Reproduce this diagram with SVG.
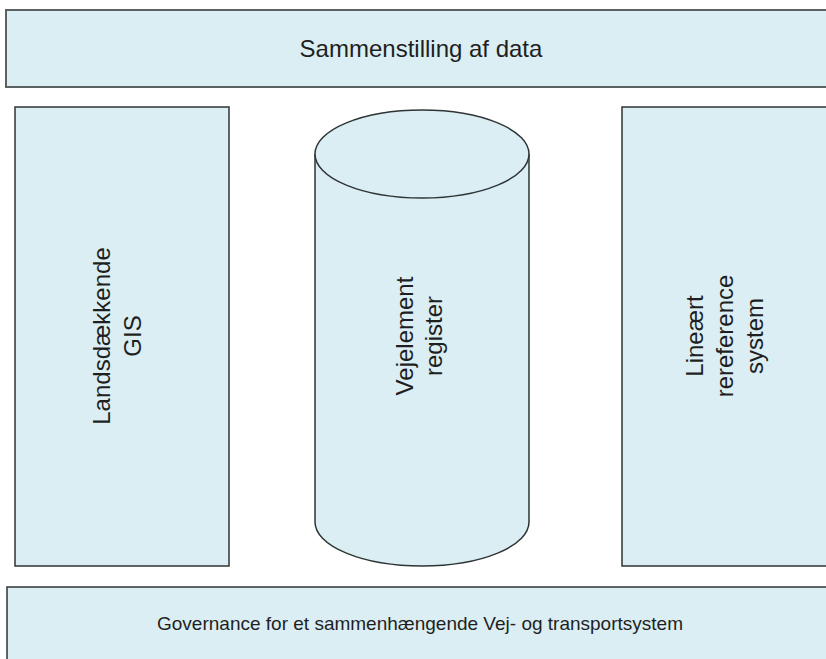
<svg xmlns="http://www.w3.org/2000/svg" width="826" height="659" viewBox="0 0 826 659">
  <style>
    .box { fill: #DAEEF3; stroke: #2f3435; stroke-width: 1.5; }
    .bar { fill: #DAEEF3; stroke: #5a6263; stroke-width: 2; }
    .lbl { font-family: "Liberation Sans", Arial, sans-serif; fill: #1f1f1f; text-anchor: middle; }
    .v { font-size: 24px; }
  </style>
  <rect width="826" height="659" fill="#ffffff"/>

  <g id="sammenstilling">
    <rect class="bar" x="6" y="10" width="830" height="77"/>
    <text class="lbl" x="421" y="57" font-size="24">Sammenstilling af data</text>
  </g>

  <g id="gis">
    <rect class="box" x="15" y="107" width="214" height="459"/>
    <text class="lbl v" transform="translate(110,336) rotate(-90)">Landsdækkende</text>
    <text class="lbl v" transform="translate(141,336) rotate(-90)">GIS</text>
  </g>

  <g id="vejelement">
    <path class="box" d="M315,154 L315,522 A107,44 0 0 0 529,522 L529,154"/>
    <ellipse class="box" cx="422" cy="154" rx="107" ry="44"/>
    <text class="lbl v" transform="translate(413,336) rotate(-90)">Vejelement</text>
    <text class="lbl v" transform="translate(442,336) rotate(-90)">register</text>
  </g>

  <g id="lineaert">
    <rect class="box" x="622" y="107" width="220" height="459"/>
    <text class="lbl v" transform="translate(703,336) rotate(-90)">Lineært</text>
    <text class="lbl v" transform="translate(733,336) rotate(-90)">rereference</text>
    <text class="lbl v" transform="translate(763,336) rotate(-90)">system</text>
  </g>

  <g id="governance">
    <rect class="box" x="7" y="587" width="830" height="80"/>
    <text class="lbl" x="420" y="630" font-size="19">Governance for et sammenhængende Vej- og transportsystem</text>
  </g>

  <g id="connectors"></g>
</svg>
